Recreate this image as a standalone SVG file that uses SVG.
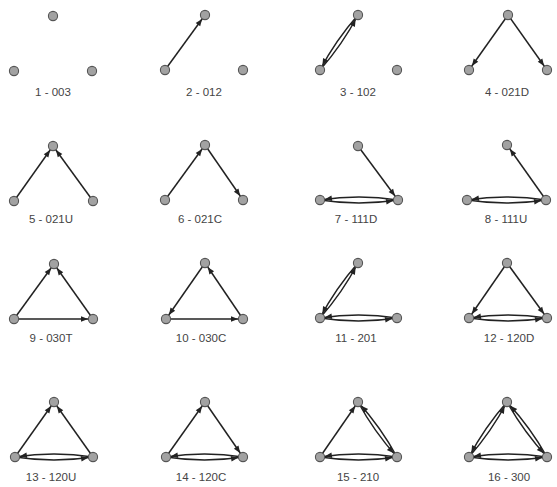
<svg xmlns="http://www.w3.org/2000/svg" width="557" height="487" viewBox="0 0 557 487">
<style>
.n{fill:#a2a2a2;stroke:#555;stroke-width:1.1}
.e{fill:none;stroke:#222;stroke-width:1.5;marker-end:url(#ah)}
.t{font-family:"Liberation Sans",Arial,sans-serif;font-size:11.5px;fill:#444;text-anchor:middle}
</style>
<defs>
<marker id="ah" markerUnits="userSpaceOnUse" markerWidth="10" markerHeight="10" refX="5" refY="0" orient="auto" overflow="visible">
<path d="M0,0 L-7,-2.8 L-7,2.8 Z" fill="#222"/>
</marker>
</defs>
<rect width="557" height="487" fill="#fff"/>
<g id="connectors">
<line class="e" x1="165" y1="70" x2="205" y2="15"/>
<path class="e" d="M320,70 Q342.3,44.8 358,15"/>
<path class="e" d="M358,15 Q335.7,40.2 320,70"/>
<line class="e" x1="508" y1="15" x2="469" y2="70"/>
<line class="e" x1="508" y1="15" x2="547" y2="70"/>
<line class="e" x1="14" y1="201" x2="53" y2="146"/>
<line class="e" x1="93" y1="201" x2="53" y2="146"/>
<line class="e" x1="165" y1="200" x2="205" y2="145"/>
<line class="e" x1="205" y1="145" x2="243" y2="200"/>
<line class="e" x1="358" y1="146" x2="398" y2="200"/>
<path class="e" d="M320,200 Q359,206 398,200"/>
<path class="e" d="M398,200 Q359,194 320,200"/>
<line class="e" x1="546" y1="200" x2="507" y2="145"/>
<path class="e" d="M467,200 Q506.5,206 546,200"/>
<path class="e" d="M546,200 Q506.5,194 467,200"/>
<line class="e" x1="14" y1="319" x2="54" y2="264"/>
<line class="e" x1="93" y1="319" x2="54" y2="264"/>
<line class="e" x1="14" y1="319" x2="93" y2="319"/>
<line class="e" x1="205" y1="263" x2="166" y2="319"/>
<line class="e" x1="243" y1="319" x2="205" y2="263"/>
<line class="e" x1="166" y1="319" x2="243" y2="319"/>
<path class="e" d="M320,318 Q342.3,292.8 358,263"/>
<path class="e" d="M358,263 Q335.7,288.2 320,318"/>
<path class="e" d="M320,318 Q358.5,324 397,318"/>
<path class="e" d="M397,318 Q358.5,312 320,318"/>
<line class="e" x1="507" y1="263" x2="469" y2="318"/>
<line class="e" x1="507" y1="263" x2="547" y2="318"/>
<path class="e" d="M469,318 Q508,324 547,318"/>
<path class="e" d="M547,318 Q508,312 469,318"/>
<line class="e" x1="15" y1="457" x2="54" y2="402"/>
<line class="e" x1="93" y1="457" x2="54" y2="402"/>
<path class="e" d="M15,457 Q54,463 93,457"/>
<path class="e" d="M93,457 Q54,451 15,457"/>
<line class="e" x1="166" y1="457" x2="205" y2="402"/>
<line class="e" x1="205" y1="402" x2="243" y2="457"/>
<path class="e" d="M166,457 Q204.5,463 243,457"/>
<path class="e" d="M243,457 Q204.5,451 166,457"/>
<line class="e" x1="320" y1="457" x2="358" y2="402"/>
<path class="e" d="M397,457 Q380.8,427.2 358,402"/>
<path class="e" d="M358,402 Q374.2,431.8 397,457"/>
<path class="e" d="M320,457 Q358.5,463 397,457"/>
<path class="e" d="M397,457 Q358.5,451 320,457"/>
<path class="e" d="M469,457 Q491.3,431.8 507,402"/>
<path class="e" d="M507,402 Q484.7,427.2 469,457"/>
<path class="e" d="M547,457 Q530.3,427.2 507,402"/>
<path class="e" d="M507,402 Q523.7,431.8 547,457"/>
<path class="e" d="M469,457 Q508,463 547,457"/>
<path class="e" d="M547,457 Q508,451 469,457"/>
</g>
<g id="nodes">
<g id="t1"><circle class="n" cx="53" cy="16" r="4.6"/><circle class="n" cx="14" cy="71" r="4.6"/><circle class="n" cx="92" cy="71" r="4.6"/><text class="t" x="53" y="96">1 - 003</text></g>
<g id="t2"><circle class="n" cx="205" cy="15" r="4.6"/><circle class="n" cx="165" cy="70" r="4.6"/><circle class="n" cx="243" cy="70" r="4.6"/><text class="t" x="204" y="96">2 - 012</text></g>
<g id="t3"><circle class="n" cx="358" cy="15" r="4.6"/><circle class="n" cx="320" cy="70" r="4.6"/><circle class="n" cx="397" cy="70" r="4.6"/><text class="t" x="358" y="96">3 - 102</text></g>
<g id="t4"><circle class="n" cx="508" cy="15" r="4.6"/><circle class="n" cx="469" cy="70" r="4.6"/><circle class="n" cx="547" cy="70" r="4.6"/><text class="t" x="507" y="96">4 - 021D</text></g>
<g id="t5"><circle class="n" cx="53" cy="146" r="4.6"/><circle class="n" cx="14" cy="201" r="4.6"/><circle class="n" cx="93" cy="201" r="4.6"/><text class="t" x="51" y="223">5 - 021U</text></g>
<g id="t6"><circle class="n" cx="205" cy="145" r="4.6"/><circle class="n" cx="165" cy="200" r="4.6"/><circle class="n" cx="243" cy="200" r="4.6"/><text class="t" x="200" y="223">6 - 021C</text></g>
<g id="t7"><circle class="n" cx="358" cy="146" r="4.6"/><circle class="n" cx="320" cy="200" r="4.6"/><circle class="n" cx="398" cy="200" r="4.6"/><text class="t" x="356" y="223">7 - 111D</text></g>
<g id="t8"><circle class="n" cx="507" cy="145" r="4.6"/><circle class="n" cx="467" cy="200" r="4.6"/><circle class="n" cx="546" cy="200" r="4.6"/><text class="t" x="506" y="223">8 - 111U</text></g>
<g id="t9"><circle class="n" cx="54" cy="264" r="4.6"/><circle class="n" cx="14" cy="319" r="4.6"/><circle class="n" cx="93" cy="319" r="4.6"/><text class="t" x="51" y="342">9 - 030T</text></g>
<g id="t10"><circle class="n" cx="205" cy="263" r="4.6"/><circle class="n" cx="166" cy="319" r="4.6"/><circle class="n" cx="243" cy="319" r="4.6"/><text class="t" x="201" y="342">10 - 030C</text></g>
<g id="t11"><circle class="n" cx="358" cy="263" r="4.6"/><circle class="n" cx="320" cy="318" r="4.6"/><circle class="n" cx="397" cy="318" r="4.6"/><text class="t" x="356" y="342">11 - 201</text></g>
<g id="t12"><circle class="n" cx="507" cy="263" r="4.6"/><circle class="n" cx="469" cy="318" r="4.6"/><circle class="n" cx="547" cy="318" r="4.6"/><text class="t" x="509" y="342">12 - 120D</text></g>
<g id="t13"><circle class="n" cx="54" cy="402" r="4.6"/><circle class="n" cx="15" cy="457" r="4.6"/><circle class="n" cx="93" cy="457" r="4.6"/><text class="t" x="51" y="481">13 - 120U</text></g>
<g id="t14"><circle class="n" cx="205" cy="402" r="4.6"/><circle class="n" cx="166" cy="457" r="4.6"/><circle class="n" cx="243" cy="457" r="4.6"/><text class="t" x="201" y="481">14 - 120C</text></g>
<g id="t15"><circle class="n" cx="358" cy="402" r="4.6"/><circle class="n" cx="320" cy="457" r="4.6"/><circle class="n" cx="397" cy="457" r="4.6"/><text class="t" x="358" y="481">15 - 210</text></g>
<g id="t16"><circle class="n" cx="507" cy="402" r="4.6"/><circle class="n" cx="469" cy="457" r="4.6"/><circle class="n" cx="547" cy="457" r="4.6"/><text class="t" x="509" y="481">16 - 300</text></g>
</g>
</svg>
